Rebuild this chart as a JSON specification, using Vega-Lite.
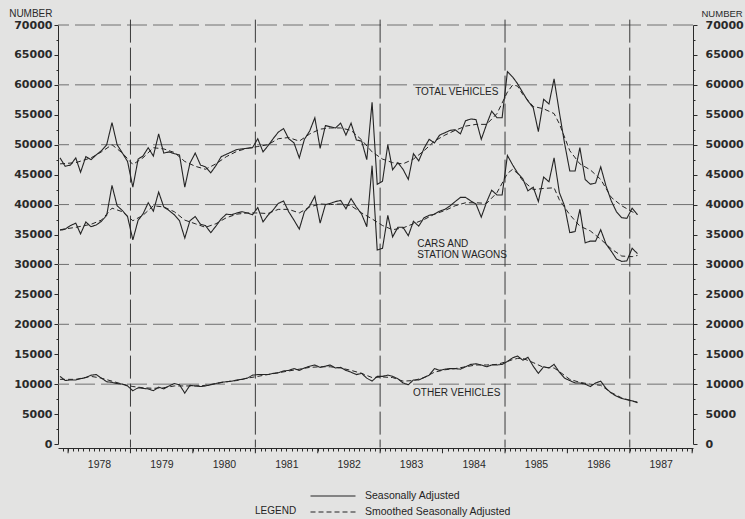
{
  "$schema": "https://vega.github.io/schema/vega-lite/v6.json",
  "width": 635,
  "height": 419,
  "autosize": {"type": "none"},
  "padding": {"left": 58, "top": 25, "right": 52, "bottom": 75},
  "background": "#e3e3e2",
  "config": {
    "view": {"stroke": null},
    "font": "Liberation Sans",
    "axis": {"grid": false, "domainColor": "#2a2a2a", "tickColor": "#2a2a2a", "labelColor": "#2a2a2a", "titleColor": "#2a2a2a"}
  },
  "datasets": {
    "sa": [
      {"date":"1977-11-15","total":47800,"cars":35700,"other":11300},
      {"date":"1977-12-15","total":46400,"cars":35900,"other":10600},
      {"date":"1978-01-15","total":46600,"cars":36500,"other":10700},
      {"date":"1978-02-15","total":47800,"cars":36900,"other":10700},
      {"date":"1978-03-15","total":45400,"cars":35100,"other":10900},
      {"date":"1978-04-15","total":48000,"cars":37100,"other":11100},
      {"date":"1978-05-15","total":47500,"cars":36300,"other":11500},
      {"date":"1978-06-15","total":48300,"cars":36600,"other":11600},
      {"date":"1978-07-15","total":49000,"cars":37200,"other":11000},
      {"date":"1978-08-15","total":50000,"cars":38200,"other":10400},
      {"date":"1978-09-15","total":53700,"cars":43200,"other":10300},
      {"date":"1978-10-15","total":50000,"cars":39800,"other":10100},
      {"date":"1978-11-15","total":48600,"cars":39000,"other":10000},
      {"date":"1978-12-15","total":47200,"cars":38000,"other":9700},
      {"date":"1979-01-15","total":42900,"cars":34100,"other":8900},
      {"date":"1979-02-15","total":47600,"cars":37400,"other":9400},
      {"date":"1979-03-15","total":48100,"cars":38400,"other":9300},
      {"date":"1979-04-15","total":49500,"cars":40300,"other":9200},
      {"date":"1979-05-15","total":48100,"cars":38900,"other":8900},
      {"date":"1979-06-15","total":51800,"cars":42100,"other":9500},
      {"date":"1979-07-15","total":48600,"cars":39600,"other":9200},
      {"date":"1979-08-15","total":48800,"cars":39000,"other":9700},
      {"date":"1979-09-15","total":48500,"cars":38300,"other":10100},
      {"date":"1979-10-15","total":48300,"cars":37300,"other":9900},
      {"date":"1979-11-15","total":42900,"cars":34400,"other":8500},
      {"date":"1979-12-15","total":46900,"cars":37300,"other":9800},
      {"date":"1980-01-15","total":48600,"cars":38000,"other":9700},
      {"date":"1980-02-15","total":46600,"cars":36700,"other":9600},
      {"date":"1980-03-15","total":46300,"cars":36500,"other":9700},
      {"date":"1980-04-15","total":45300,"cars":35300,"other":9900},
      {"date":"1980-05-15","total":46500,"cars":36400,"other":10100},
      {"date":"1980-06-15","total":48000,"cars":37600,"other":10300},
      {"date":"1980-07-15","total":48400,"cars":38400,"other":10400},
      {"date":"1980-08-15","total":48800,"cars":38300,"other":10500},
      {"date":"1980-09-15","total":49200,"cars":38600,"other":10700},
      {"date":"1980-10-15","total":49300,"cars":38800,"other":10800},
      {"date":"1980-11-15","total":49400,"cars":38600,"other":11000},
      {"date":"1980-12-15","total":49500,"cars":38300,"other":11500},
      {"date":"1981-01-15","total":51000,"cars":39500,"other":11600},
      {"date":"1981-02-15","total":48800,"cars":37100,"other":11600},
      {"date":"1981-03-15","total":49800,"cars":38200,"other":11600},
      {"date":"1981-04-15","total":51000,"cars":39100,"other":11800},
      {"date":"1981-05-15","total":52100,"cars":40200,"other":11900},
      {"date":"1981-06-15","total":52700,"cars":40600,"other":12200},
      {"date":"1981-07-15","total":51000,"cars":38800,"other":12300},
      {"date":"1981-08-15","total":50300,"cars":37400,"other":12600},
      {"date":"1981-09-15","total":47800,"cars":35900,"other":12300},
      {"date":"1981-10-15","total":50900,"cars":38800,"other":12700},
      {"date":"1981-11-15","total":52300,"cars":39800,"other":13000},
      {"date":"1981-12-15","total":54500,"cars":41400,"other":13200},
      {"date":"1982-01-15","total":49400,"cars":36900,"other":12800},
      {"date":"1982-02-15","total":53200,"cars":40000,"other":13000},
      {"date":"1982-03-15","total":53000,"cars":40200,"other":13200},
      {"date":"1982-04-15","total":52800,"cars":40500,"other":12700},
      {"date":"1982-05-15","total":53600,"cars":40700,"other":12800},
      {"date":"1982-06-15","total":51600,"cars":39300,"other":12300},
      {"date":"1982-07-15","total":53600,"cars":41000,"other":12000},
      {"date":"1982-08-15","total":50800,"cars":39600,"other":11600},
      {"date":"1982-09-15","total":50600,"cars":38400,"other":11800},
      {"date":"1982-10-15","total":47500,"cars":36300,"other":11000},
      {"date":"1982-11-15","total":57100,"cars":46500,"other":10500},
      {"date":"1982-12-15","total":43400,"cars":32400,"other":11300},
      {"date":"1983-01-15","total":43900,"cars":32700,"other":11300},
      {"date":"1983-02-15","total":50000,"cars":38200,"other":11500},
      {"date":"1983-03-15","total":45800,"cars":34600,"other":11300},
      {"date":"1983-04-15","total":47000,"cars":36200,"other":10900},
      {"date":"1983-05-15","total":45900,"cars":36200,"other":10200},
      {"date":"1983-06-15","total":44200,"cars":34800,"other":9900},
      {"date":"1983-07-15","total":48500,"cars":37200,"other":10700},
      {"date":"1983-08-15","total":47300,"cars":36400,"other":10700},
      {"date":"1983-09-15","total":49400,"cars":37800,"other":11100},
      {"date":"1983-10-15","total":50900,"cars":38200,"other":11500},
      {"date":"1983-11-15","total":50300,"cars":38400,"other":12600},
      {"date":"1983-12-15","total":51600,"cars":38900,"other":12300},
      {"date":"1984-01-15","total":52000,"cars":39200,"other":12500},
      {"date":"1984-02-15","total":52400,"cars":39800,"other":12600},
      {"date":"1984-03-15","total":52500,"cars":40500,"other":12600},
      {"date":"1984-04-15","total":51800,"cars":41200,"other":12500},
      {"date":"1984-05-15","total":54000,"cars":41200,"other":12900},
      {"date":"1984-06-15","total":54300,"cars":40600,"other":13300},
      {"date":"1984-07-15","total":54200,"cars":40100,"other":13400},
      {"date":"1984-08-15","total":50900,"cars":37900,"other":13200},
      {"date":"1984-09-15","total":53400,"cars":40400,"other":12900},
      {"date":"1984-10-15","total":55600,"cars":42400,"other":13200},
      {"date":"1984-11-15","total":54500,"cars":41600,"other":13200},
      {"date":"1984-12-15","total":54500,"cars":41600,"other":13300},
      {"date":"1985-01-15","total":62200,"cars":48200,"other":13800},
      {"date":"1985-02-15","total":61300,"cars":46600,"other":14400},
      {"date":"1985-03-15","total":60200,"cars":45300,"other":14700},
      {"date":"1985-04-15","total":58700,"cars":44300,"other":14000},
      {"date":"1985-05-15","total":57300,"cars":42300,"other":14500},
      {"date":"1985-06-15","total":56200,"cars":42900,"other":13000},
      {"date":"1985-07-15","total":52200,"cars":40500,"other":11800},
      {"date":"1985-08-15","total":57600,"cars":44600,"other":12900},
      {"date":"1985-09-15","total":56800,"cars":43800,"other":12700},
      {"date":"1985-10-15","total":61000,"cars":47800,"other":13300},
      {"date":"1985-11-15","total":55400,"cars":42000,"other":12000},
      {"date":"1985-12-15","total":50300,"cars":39800,"other":11000},
      {"date":"1986-01-15","total":45600,"cars":35300,"other":10600},
      {"date":"1986-02-15","total":45600,"cars":35500,"other":10200},
      {"date":"1986-03-15","total":49500,"cars":39200,"other":10200},
      {"date":"1986-04-15","total":44200,"cars":33600,"other":10000},
      {"date":"1986-05-15","total":43400,"cars":33900,"other":9600},
      {"date":"1986-06-15","total":43600,"cars":33900,"other":10200},
      {"date":"1986-07-15","total":46300,"cars":35800,"other":10500},
      {"date":"1986-08-15","total":43100,"cars":33400,"other":9300},
      {"date":"1986-09-15","total":40600,"cars":32200,"other":8500},
      {"date":"1986-10-15","total":38800,"cars":30900,"other":8000},
      {"date":"1986-11-15","total":37800,"cars":30500,"other":7600},
      {"date":"1986-12-15","total":37700,"cars":30600,"other":7400},
      {"date":"1987-01-15","total":39400,"cars":32700,"other":7200},
      {"date":"1987-02-15","total":38300,"cars":31800,"other":6900}
    ],
    "smooth": [
      {"date":"1977-11-15","total":46800,"cars":35800,"other":10800},
      {"date":"1978-02-15","total":47000,"cars":36200,"other":10800},
      {"date":"1978-05-15","total":47800,"cars":36700,"other":11300},
      {"date":"1978-07-15","total":48800,"cars":37400,"other":11000},
      {"date":"1978-09-15","total":50000,"cars":39400,"other":10500},
      {"date":"1978-11-15","total":48600,"cars":38800,"other":10000},
      {"date":"1979-01-15","total":46700,"cars":37300,"other":9600},
      {"date":"1979-03-15","total":47800,"cars":38200,"other":9400},
      {"date":"1979-05-15","total":49500,"cars":39800,"other":9300},
      {"date":"1979-07-15","total":49300,"cars":39600,"other":9400},
      {"date":"1979-09-15","total":48700,"cars":38800,"other":9700},
      {"date":"1979-11-15","total":47200,"cars":37400,"other":9700},
      {"date":"1980-01-15","total":46400,"cars":36800,"other":9700},
      {"date":"1980-03-15","total":45900,"cars":36200,"other":9800},
      {"date":"1980-05-15","total":46800,"cars":36800,"other":10100},
      {"date":"1980-07-15","total":48000,"cars":37800,"other":10400},
      {"date":"1980-09-15","total":48900,"cars":38400,"other":10600},
      {"date":"1980-11-15","total":49400,"cars":38600,"other":11000},
      {"date":"1981-01-15","total":49700,"cars":38600,"other":11300},
      {"date":"1981-03-15","total":50000,"cars":38500,"other":11600},
      {"date":"1981-05-15","total":51000,"cars":39200,"other":11900},
      {"date":"1981-07-15","total":51200,"cars":39200,"other":12200},
      {"date":"1981-09-15","total":50600,"cars":38600,"other":12500},
      {"date":"1981-11-15","total":51800,"cars":39600,"other":12800},
      {"date":"1982-01-15","total":52600,"cars":40100,"other":12900},
      {"date":"1982-03-15","total":52800,"cars":40000,"other":12900},
      {"date":"1982-05-15","total":52800,"cars":40100,"other":12700},
      {"date":"1982-07-15","total":52400,"cars":39800,"other":12300},
      {"date":"1982-09-15","total":50800,"cars":38600,"other":11800},
      {"date":"1982-11-15","total":48800,"cars":37600,"other":11100},
      {"date":"1983-01-15","total":47600,"cars":36500,"other":11200},
      {"date":"1983-03-15","total":47000,"cars":35800,"other":11100},
      {"date":"1983-05-15","total":46800,"cars":36100,"other":10500},
      {"date":"1983-07-15","total":47600,"cars":36800,"other":10600},
      {"date":"1983-09-15","total":49000,"cars":37500,"other":11100},
      {"date":"1983-11-15","total":50600,"cars":38400,"other":12000},
      {"date":"1984-01-15","total":51600,"cars":39000,"other":12400},
      {"date":"1984-03-15","total":52400,"cars":39800,"other":12600},
      {"date":"1984-05-15","total":53100,"cars":40300,"other":12900},
      {"date":"1984-07-15","total":53400,"cars":40300,"other":13200},
      {"date":"1984-09-15","total":53400,"cars":40200,"other":13200},
      {"date":"1984-11-15","total":55200,"cars":42000,"other":13300},
      {"date":"1985-01-15","total":58800,"cars":45200,"other":13800},
      {"date":"1985-02-15","total":60000,"cars":45900,"other":14100},
      {"date":"1985-03-15","total":59800,"cars":45200,"other":14300},
      {"date":"1985-04-15","total":58400,"cars":44000,"other":14300},
      {"date":"1985-06-15","total":56400,"cars":42500,"other":13600},
      {"date":"1985-08-15","total":56000,"cars":42700,"other":12800},
      {"date":"1985-10-15","total":55200,"cars":42800,"other":12700},
      {"date":"1985-11-15","total":53500,"cars":40800,"other":12100},
      {"date":"1986-01-15","total":49000,"cars":38300,"other":10800},
      {"date":"1986-03-15","total":46800,"cars":36400,"other":10300},
      {"date":"1986-05-15","total":45800,"cars":35600,"other":10000},
      {"date":"1986-07-15","total":44200,"cars":34200,"other":9800},
      {"date":"1986-09-15","total":41200,"cars":32600,"other":8600},
      {"date":"1986-11-15","total":39800,"cars":31400,"other":7700},
      {"date":"1987-01-15","total":38800,"cars":31300,"other":7200},
      {"date":"1987-02-15","total":38400,"cars":31500,"other":7000}
    ],
    "grid": [{"v":10000},{"v":20000},{"v":30000},{"v":40000},{"v":50000},{"v":60000},{"v":70000}],
    "marks": [{"d":"1979-01-01"},{"d":"1981-01-01"},{"d":"1983-01-01"},{"d":"1985-01-01"},{"d":"1987-01-01"}],
    "years": [{"d":"1978-01-01"},{"d":"1979-01-01"},{"d":"1980-01-01"},{"d":"1981-01-01"},{"d":"1982-01-01"},{"d":"1983-01-01"},{"d":"1984-01-01"},{"d":"1985-01-01"},{"d":"1986-01-01"},{"d":"1987-01-01"},{"d":"1988-01-01"}],
    "notes": [
      {"label":"TOTAL VEHICLES","d":"1983-07-25","v":58750},
      {"label":"CARS AND","d":"1983-08-06","v":33400},
      {"label":"STATION WAGONS","d":"1983-08-06","v":31600},
      {"label":"OTHER VEHICLES","d":"1983-07-13","v":8570},
      {"label":"LEGEND","d":"1980-12-30","v":-11200}
    ]
  },
  "layer": [
    {
      "data": {"name": "grid"},
      "mark": {"type": "rule", "color": "#707070", "strokeWidth": 1, "strokeDash": [20, 6]},
      "encoding": {
        "y": {
          "field": "v", "type": "quantitative",
          "scale": {"domain": [0, 70000], "nice": false},
          "axis": {
            "orient": "left",
            "values": [0,2500,5000,7500,10000,12500,15000,17500,20000,22500,25000,27500,30000,32500,35000,37500,40000,42500,45000,47500,50000,52500,55000,57500,60000,62500,65000,67500,70000],
            "labelExpr": "datum.value % 5000 === 0 ? '' + datum.value : ''",
            "tickSize": {"condition": {"test": "datum.value % 5000 === 0", "value": 4}, "value": 2},
            "labelFont": "DejaVu Sans", "labelFontSize": 11, "labelFontWeight": "bold", "labelPadding": 2,
            "title": "NUMBER", "titleAngle": 0, "titleAlign": "right", "titleBaseline": "middle",
            "titleX": -6, "titleY": -12, "titleFont": "Liberation Sans", "titleFontSize": 10, "titleFontWeight": "normal"
          }
        }
      }
    },
    {
      "data": {"name": "marks"},
      "mark": {"type": "rule", "color": "#3a3a3a", "strokeWidth": 1, "strokeDash": [23, 5], "strokeCap": "butt"},
      "encoding": {
        "x": {"field": "d", "type": "temporal", "scale": {"type": "utc", "domain": ["1977-11-03", "1988-01-06"]}},
        "y": {"datum": 70900, "type": "quantitative", "scale": {"domain": [0, 70000], "nice": false}, "axis": null},
        "y2": {"datum": -600}
      }
    },
    {
      "data": {"name": "sa"},
      "transform": [{"fold": ["total", "cars", "other"], "as": ["series", "value"]}],
      "mark": {"type": "line", "color": "#242424", "strokeWidth": 1.1},
      "encoding": {
        "x": {
          "field": "date", "type": "temporal",
          "scale": {"type": "utc", "domain": ["1977-11-03", "1988-01-06"]},
          "axis": {
            "orient": "bottom", "offset": 4, "title": null,
            "tickCount": {"interval": "month", "step": 1},
            "labelExpr": "utcmonth(datum.value) === 6 ? '' + utcyear(datum.value) : ''",
            "tickSize": 3,
            "labelOverlap": false, "labelFlush": false, "labelPadding": 8,
            "labelFont": "Liberation Sans", "labelFontSize": 10.5
          }
        },
        "y": {
          "field": "value", "type": "quantitative",
          "scale": {"domain": [0, 70000], "nice": false},
          "axis": {
            "orient": "right",
            "values": [0,2500,5000,7500,10000,12500,15000,17500,20000,22500,25000,27500,30000,32500,35000,37500,40000,42500,45000,47500,50000,52500,55000,57500,60000,62500,65000,67500,70000],
            "labelExpr": "datum.value % 5000 === 0 ? '' + datum.value : ''",
            "tickSize": {"condition": {"test": "datum.value % 5000 === 0", "value": 4}, "value": 2},
            "labelFont": "DejaVu Sans", "labelFontSize": 11, "labelFontWeight": "bold", "labelPadding": 8,
            "title": "NUMBER", "titleAngle": 0, "titleAlign": "left", "titleBaseline": "middle",
            "titleX": 8, "titleY": -12, "titleFont": "Liberation Sans", "titleFontSize": 9.5, "titleFontWeight": "normal"
          }
        },
        "detail": {"field": "series"},
        "strokeDash": {
          "datum": "Seasonally Adjusted",
          "scale": {"domain": ["Seasonally Adjusted", "Smoothed Seasonally Adjusted"], "range": [[1, 0], [5, 3]]},
          "legend": {
            "orient": "none", "legendX": 268, "legendY": 464, "title": null, "direction": "vertical",
            "symbolType": "M-3.75,0H3.75", "symbolSize": 144, "symbolStrokeWidth": 1.2, "symbolStrokeColor": "#242424",
            "labelFont": "Liberation Sans", "labelFontSize": 10.5, "labelColor": "#242424", "labelOffset": 25, "rowPadding": 3
          }
        }
      }
    },
    {
      "data": {"name": "years"},
      "mark": {"type": "rule", "color": "#2a2a2a", "strokeWidth": 1},
      "encoding": {
        "x": {"field": "d", "type": "temporal", "scale": {"type": "utc", "domain": ["1977-11-03", "1988-01-06"]}},
        "y": {"datum": -670, "type": "quantitative", "scale": {"domain": [0, 70000], "nice": false}, "axis": null},
        "y2": {"datum": -1550}
      }
    },
    {
      "data": {"name": "smooth"},
      "transform": [{"fold": ["total", "cars", "other"], "as": ["series", "value"]}],
      "mark": {"type": "line", "color": "#242424", "strokeWidth": 1},
      "encoding": {
        "x": {"field": "date", "type": "temporal", "scale": {"type": "utc", "domain": ["1977-11-03", "1988-01-06"]}},
        "y": {"field": "value", "type": "quantitative", "scale": {"domain": [0, 70000], "nice": false}, "axis": null},
        "detail": {"field": "series"},
        "strokeDash": {"datum": "Smoothed Seasonally Adjusted"}
      }
    },
    {
      "data": {"name": "notes"},
      "mark": {"type": "text", "align": "left", "baseline": "middle", "font": "Liberation Sans", "fontSize": 10, "color": "#242424"},
      "encoding": {
        "x": {"field": "d", "type": "temporal", "scale": {"type": "utc", "domain": ["1977-11-03", "1988-01-06"]}},
        "y": {"field": "v", "type": "quantitative", "scale": {"domain": [0, 70000], "nice": false}, "axis": null},
        "text": {"field": "label"}
      }
    }
  ],
  "resolve": {"axis": {"y": "independent"}}
}
